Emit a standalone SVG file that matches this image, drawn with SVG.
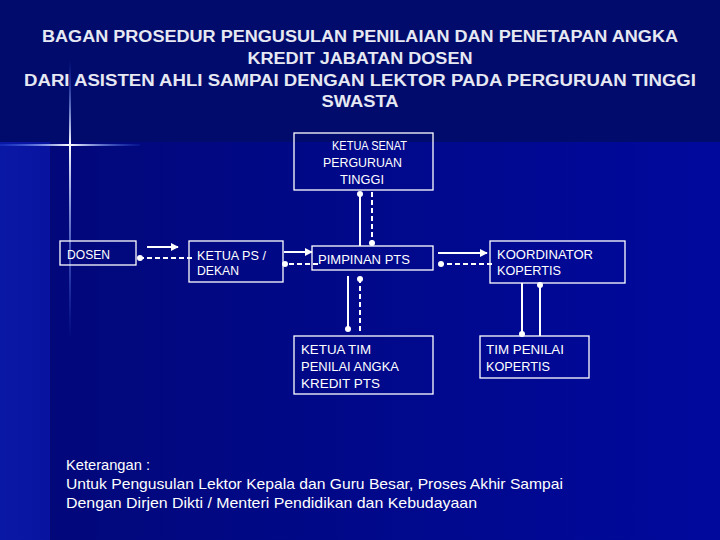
<svg xmlns="http://www.w3.org/2000/svg" width="720" height="540" viewBox="0 0 720 540">
<defs>
<linearGradient id="bg" x1="0" y1="0" x2="720" y2="0" gradientUnits="userSpaceOnUse">
<stop offset="0.07" stop-color="#02087a"/>
<stop offset="1" stop-color="#00099c"/>
</linearGradient>
<linearGradient id="strip" x1="0" y1="0" x2="50" y2="0" gradientUnits="userSpaceOnUse">
<stop offset="0" stop-color="#0a18a6"/>
<stop offset="1" stop-color="#0814a0"/>
</linearGradient>
<linearGradient id="hflare" x1="0" y1="0" x2="140" y2="0" gradientUnits="userSpaceOnUse">
<stop offset="0" stop-color="#3a6cff" stop-opacity="0.2"/>
<stop offset="0.5" stop-color="#ffffff" stop-opacity="1"/>
<stop offset="1" stop-color="#3a6cff" stop-opacity="0.1"/>
</linearGradient>
<linearGradient id="vflare" x1="0" y1="60" x2="0" y2="340" gradientUnits="userSpaceOnUse">
<stop offset="0" stop-color="#3a6cff" stop-opacity="0"/>
<stop offset="0.3" stop-color="#ffffff" stop-opacity="1"/>
<stop offset="1" stop-color="#3a6cff" stop-opacity="0"/>
</linearGradient>
<marker id="arr" viewBox="0 0 10 10" refX="9" refY="5" markerWidth="4" markerHeight="4" orient="auto" markerUnits="strokeWidth">
<path d="M0,0 L10,5 L0,10 z" fill="#ffffff"/>
</marker>
<marker id="dot" viewBox="0 0 10 10" refX="5" refY="5" markerWidth="3" markerHeight="3" orient="auto" markerUnits="strokeWidth">
<circle cx="5" cy="5" r="5" fill="#ffffff"/>
</marker>
<style>
.box{fill:none;stroke:#ffffff;stroke-width:1.3}
.t{font-family:"Liberation Sans",Arial,sans-serif;font-size:13px;fill:#ffffff}
.title{font-family:"Liberation Sans",Arial,sans-serif;font-size:16px;font-weight:bold;fill:#e6e8f2;text-anchor:middle}
.note{font-family:"Liberation Sans",Arial,sans-serif;font-size:15px;fill:#ffffff}
.c{stroke:#ffffff;stroke-width:2;fill:none}
.d{stroke-dasharray:5 3}
</style>
</defs>

<g id="background">
<rect x="0" y="0" width="720" height="540" fill="url(#bg)"/>
<rect x="0" y="142" width="50" height="398" fill="url(#strip)"/>
<rect x="0" y="0" width="720" height="142" fill="#010b6c"/>
<rect x="0" y="144" width="140" height="2" fill="url(#hflare)"/>
<rect x="69" y="60" width="2" height="280" fill="url(#vflare)"/>
</g>

<g id="title">
<text class="title" x="360" y="42" textLength="636" lengthAdjust="spacingAndGlyphs">BAGAN PROSEDUR PENGUSULAN PENILAIAN DAN PENETAPAN ANGKA</text>
<text class="title" x="360" y="64" textLength="225" lengthAdjust="spacingAndGlyphs">KREDIT JABATAN DOSEN</text>
<text class="title" x="360" y="86" textLength="672" lengthAdjust="spacingAndGlyphs">DARI ASISTEN AHLI SAMPAI DENGAN LEKTOR PADA PERGURUAN TINGGI</text>
<text class="title" x="360" y="107" textLength="77" lengthAdjust="spacingAndGlyphs">SWASTA</text>
</g>

<g id="node-senat">
<rect class="box" x="294" y="133" width="139" height="57"/>
<text class="t" x="332" y="150" textLength="75" lengthAdjust="spacingAndGlyphs">KETUA SENAT</text>
<text class="t" x="323" y="167" textLength="79" lengthAdjust="spacingAndGlyphs">PERGURUAN</text>
<text class="t" x="340" y="184" textLength="44" lengthAdjust="spacingAndGlyphs">TINGGI</text>
</g>

<g id="node-dosen">
<rect class="box" x="60" y="241" width="76" height="24"/>
<text class="t" x="67" y="259" textLength="43" lengthAdjust="spacingAndGlyphs">DOSEN</text>
</g>

<g id="node-ketuaps">
<rect class="box" x="189" y="241" width="94" height="41"/>
<text class="t" x="197" y="260" textLength="69" lengthAdjust="spacingAndGlyphs">KETUA PS /</text>
<text class="t" x="197" y="275" textLength="42" lengthAdjust="spacingAndGlyphs">DEKAN</text>
</g>

<g id="node-pimpinan">
<rect class="box" x="312" y="246" width="121" height="24"/>
<text class="t" x="318" y="264" textLength="92" lengthAdjust="spacingAndGlyphs">PIMPINAN PTS</text>
</g>

<g id="node-koordinator">
<rect class="box" x="490" y="241" width="135" height="42"/>
<text class="t" x="497" y="259" textLength="96" lengthAdjust="spacingAndGlyphs">KOORDINATOR</text>
<text class="t" x="497" y="275" textLength="64" lengthAdjust="spacingAndGlyphs">KOPERTIS</text>
</g>

<g id="node-ketuatim">
<rect class="box" x="294" y="336" width="139" height="58"/>
<text class="t" x="301" y="354" textLength="70" lengthAdjust="spacingAndGlyphs">KETUA TIM</text>
<text class="t" x="301" y="371" textLength="98" lengthAdjust="spacingAndGlyphs">PENILAI ANGKA</text>
<text class="t" x="301" y="388" textLength="79" lengthAdjust="spacingAndGlyphs">KREDIT  PTS</text>
</g>

<g id="node-timpenilai">
<rect class="box" x="480" y="336" width="109" height="42"/>
<text class="t" x="486" y="354" textLength="78" lengthAdjust="spacingAndGlyphs">TIM PENILAI</text>
<text class="t" x="486" y="371" textLength="64" lengthAdjust="spacingAndGlyphs">KOPERTIS</text>
</g>

<g id="connectors">
<line class="c" x1="147" y1="247" x2="178" y2="247" marker-end="url(#arr)"/>
<line class="c d" x1="192" y1="258" x2="140" y2="258" marker-end="url(#dot)"/>
<line class="c" x1="284" y1="252" x2="312" y2="252" marker-end="url(#arr)"/>
<line class="c d" x1="318" y1="264" x2="285" y2="264" marker-end="url(#dot)"/>
<line class="c" x1="438" y1="253" x2="487" y2="253" marker-end="url(#arr)"/>
<line class="c d" x1="492" y1="264" x2="441" y2="264" marker-end="url(#dot)"/>
<line class="c" x1="360" y1="246" x2="360" y2="194" marker-end="url(#dot)"/>
<line class="c d" x1="372" y1="192" x2="372" y2="243" marker-end="url(#dot)"/>
<line class="c" x1="348" y1="276" x2="348" y2="329" marker-end="url(#dot)"/>
<line class="c d" x1="360" y1="331" x2="360" y2="279" marker-end="url(#dot)"/>
<line class="c" x1="522" y1="283" x2="522" y2="334" marker-end="url(#dot)"/>
<line class="c" x1="540" y1="336" x2="540" y2="285" marker-end="url(#dot)"/>
</g>

<g id="keterangan">
<text class="note" x="66" y="470" textLength="84" lengthAdjust="spacingAndGlyphs">Keterangan :</text>
<text class="note" x="66" y="489" textLength="497" lengthAdjust="spacingAndGlyphs">Untuk Pengusulan Lektor Kepala dan Guru Besar, Proses Akhir Sampai</text>
<text class="note" x="66" y="508" textLength="411" lengthAdjust="spacingAndGlyphs">Dengan Dirjen Dikti / Menteri Pendidikan dan Kebudayaan</text>
</g>
</svg>
